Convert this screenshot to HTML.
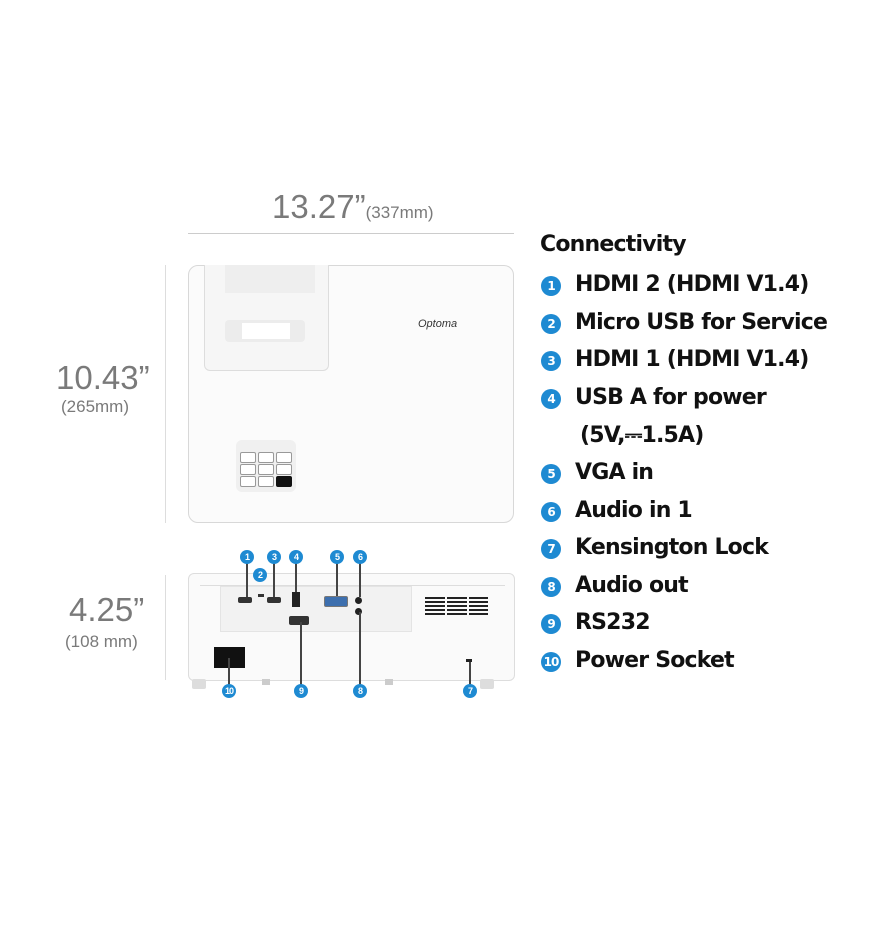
<!DOCTYPE html>
<html><head><meta charset="utf-8"><style>
body{margin:0;width:883px;height:943px;background:#fff;position:relative;overflow:hidden;font-family:"Liberation Sans",sans-serif}
.a{position:absolute}
.g{color:#7a7a7a}
.it{position:absolute;left:540px;font-weight:bold;font-size:22px;color:#111;height:24px;line-height:24px;white-space:nowrap;font-family:"DejaVu Sans","Liberation Sans",sans-serif;letter-spacing:-0.8px}
.b{display:inline-block;width:20px;height:20px;border-radius:50%;background:#1e8ad2;color:#fff;font-size:12px;line-height:20px;text-align:center;margin-left:1px;margin-right:14px;vertical-align:1px;letter-spacing:-1px}
.s{position:absolute;width:14px;height:14px;border-radius:50%;background:#1e8ad2;color:#fff;font-size:9px;font-weight:bold;line-height:14px;text-align:center;letter-spacing:-1px}
.l{position:absolute;width:2px;background:#444}
.k{position:absolute;width:14px;height:9px;border:1px solid #999;border-radius:2px;background:#fff}
</style></head><body>
<div class="a g" style="left:272px;top:188px;font-size:33px;line-height:38px">13.27”<span style="font-size:17px">(337mm)</span></div>
<div class="a" style="left:188px;top:233px;width:326px;height:1px;background:#ccc"></div>
<div class="a g" style="left:56px;top:360px;font-size:33px;line-height:36px">10.43”</div>
<div class="a g" style="left:61px;top:397px;font-size:17px">(265mm)</div>
<div class="a" style="left:165px;top:265px;width:1px;height:258px;background:#ddd"></div>
<div class="a g" style="left:69px;top:592px;font-size:33px;line-height:36px">4.25”</div>
<div class="a g" style="left:65px;top:632px;font-size:17px">(108 mm)</div>
<div class="a" style="left:165px;top:575px;width:1px;height:105px;background:#ddd"></div>

<!-- top view -->
<div class="a" style="left:188px;top:265px;width:324px;height:256px;border:1px solid #d8d8d8;border-radius:10px;background:#fbfbfb"></div>
<div class="a" style="left:204px;top:265px;width:123px;height:105px;border:1px solid #ddd;border-top:none;border-radius:0 0 6px 6px;background:#f6f6f6"></div>
<div class="a" style="left:225px;top:265px;width:90px;height:28px;background:#eee"></div>
<div class="a" style="left:225px;top:320px;width:80px;height:22px;background:#ececec;border-radius:4px"></div>
<div class="a" style="left:242px;top:323px;width:48px;height:16px;background:#fff"></div>
<div class="a" style="left:418px;top:318px;font-size:11px;font-style:italic;color:#333">Optoma</div>
<div class="a" style="left:236px;top:440px;width:60px;height:52px;background:#f0f0f0;border-radius:6px"></div>
<div class="k" style="left:240px;top:452px"></div><div class="k" style="left:258px;top:452px"></div><div class="k" style="left:276px;top:452px"></div>
<div class="k" style="left:240px;top:464px"></div><div class="k" style="left:258px;top:464px"></div><div class="k" style="left:276px;top:464px"></div>
<div class="k" style="left:240px;top:476px"></div><div class="k" style="left:258px;top:476px"></div><div class="k" style="left:276px;top:476px;background:#111;border-color:#111"></div>

<!-- rear view -->
<div class="a" style="left:188px;top:573px;width:325px;height:106px;border:1px solid #ddd;border-radius:6px;background:#fafafa"></div>
<div class="a" style="left:200px;top:585px;width:305px;height:1px;background:#ddd"></div>
<div class="a" style="left:220px;top:586px;width:190px;height:44px;background:#f2f2f2;border:1px solid #e4e4e4"></div>
<div class="a" style="left:238px;top:597px;width:14px;height:6px;background:#333;border-radius:2px"></div>
<div class="a" style="left:258px;top:594px;width:6px;height:3px;background:#333"></div>
<div class="a" style="left:267px;top:597px;width:14px;height:6px;background:#333;border-radius:2px"></div>
<div class="a" style="left:292px;top:592px;width:8px;height:15px;background:#222"></div>
<div class="a" style="left:324px;top:596px;width:22px;height:9px;background:#3d6fae;border:1px solid #777;border-radius:2px"></div>
<div class="a" style="left:355px;top:597px;width:7px;height:7px;background:#222;border-radius:50%"></div>
<div class="a" style="left:355px;top:608px;width:7px;height:7px;background:#222;border-radius:50%"></div>
<div class="a" style="left:289px;top:616px;width:20px;height:9px;background:#333;border-radius:2px"></div>
<div class="a" style="left:425px;top:597px;width:63px;height:20px;background:repeating-linear-gradient(#222 0 2px,#fafafa 2px 4px)"></div>
<div class="a" style="left:445px;top:597px;width:2px;height:20px;background:#fafafa"></div>
<div class="a" style="left:467px;top:597px;width:2px;height:20px;background:#fafafa"></div>
<div class="a" style="left:214px;top:647px;width:31px;height:21px;background:#111"></div>
<div class="a" style="left:466px;top:659px;width:6px;height:3px;background:#222"></div>
<div class="a" style="left:192px;top:679px;width:14px;height:10px;background:#ddd;border-radius:2px"></div>
<div class="a" style="left:480px;top:679px;width:14px;height:10px;background:#ddd;border-radius:2px"></div>
<div class="a" style="left:262px;top:679px;width:8px;height:6px;background:#ccc"></div>
<div class="a" style="left:385px;top:679px;width:8px;height:6px;background:#ccc"></div>

<div class="l" style="left:246px;top:562px;height:35px"></div>
<div class="l" style="left:273px;top:562px;height:35px"></div>
<div class="l" style="left:295px;top:562px;height:30px"></div>
<div class="l" style="left:336px;top:562px;height:34px"></div>
<div class="l" style="left:359px;top:562px;height:35px"></div>
<div class="l" style="left:228px;top:658px;height:28px"></div>
<div class="l" style="left:300px;top:622px;height:64px"></div>
<div class="l" style="left:359px;top:612px;height:74px"></div>
<div class="l" style="left:469px;top:662px;height:24px"></div>
<div class="s" style="left:240px;top:550px">1</div>
<div class="s" style="left:253px;top:568px">2</div>
<div class="s" style="left:267px;top:550px">3</div>
<div class="s" style="left:289px;top:550px">4</div>
<div class="s" style="left:330px;top:550px">5</div>
<div class="s" style="left:353px;top:550px">6</div>
<div class="s" style="left:222px;top:684px">10</div>
<div class="s" style="left:294px;top:684px">9</div>
<div class="s" style="left:353px;top:684px">8</div>
<div class="s" style="left:463px;top:684px">7</div>

<div class="it" style="top:233px">Connectivity</div>
<div class="it" style="top:273px"><span class="b">1</span>HDMI 2 (HDMI V1.4)</div>
<div class="it" style="top:311px"><span class="b">2</span>Micro USB for Service</div>
<div class="it" style="top:348px"><span class="b">3</span>HDMI 1 (HDMI V1.4)</div>
<div class="it" style="top:386px"><span class="b">4</span>USB A for power</div>
<div class="it" style="top:424px;left:580px">(5V,⎓1.5A)</div>
<div class="it" style="top:461px"><span class="b">5</span>VGA in</div>
<div class="it" style="top:499px"><span class="b">6</span>Audio in 1</div>
<div class="it" style="top:536px"><span class="b">7</span>Kensington Lock</div>
<div class="it" style="top:574px"><span class="b">8</span>Audio out</div>
<div class="it" style="top:611px"><span class="b">9</span>RS232</div>
<div class="it" style="top:649px"><span class="b">10</span>Power Socket</div>
</body></html>
